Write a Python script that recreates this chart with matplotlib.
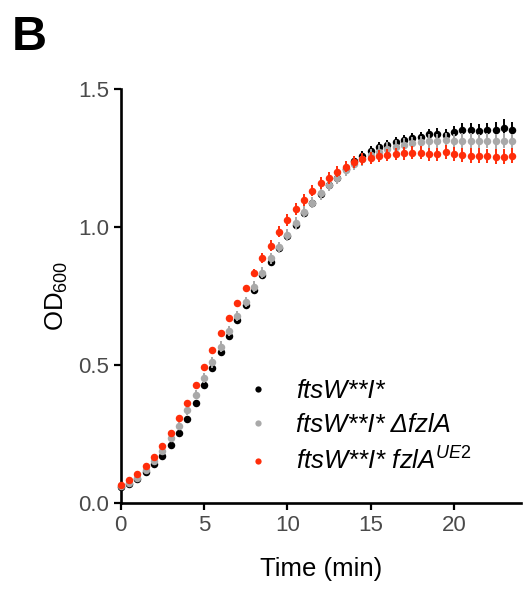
import numpy as np
import matplotlib.pyplot as plt
from matplotlib.lines import Line2D

plt.rcParams['font.family'] = ['Liberation Sans', 'DejaVu Sans']
plt.rcParams['mathtext.fontset'] = 'custom'
plt.rcParams['mathtext.rm'] = 'Liberation Sans'
plt.rcParams['mathtext.it'] = 'Liberation Sans:italic'

# sampling times (min)
time = [0.0, 0.5, 1.0, 1.5, 2.0, 2.5, 3.0, 3.5, 4.0, 4.5, 5.0, 5.5,
        6.0, 6.5, 7.0, 7.5, 8.0, 8.5, 9.0, 9.5, 10.0, 10.5, 11.0, 11.5,
        12.0, 12.5, 13.0, 13.5, 14.0, 14.5, 15.0, 15.5, 16.0, 16.5, 17.0, 17.5,
        18.0, 18.5, 19.0, 19.5, 20.0, 20.5, 21.0, 21.5, 22.0, 22.5, 23.0, 23.5]

# ftsW**I*
od_wt = [0.060, 0.070, 0.089, 0.114, 0.141, 0.171, 0.211, 0.256, 0.306, 0.363, 0.428, 0.488,
         0.549, 0.605, 0.663, 0.717, 0.772, 0.826, 0.874, 0.925, 0.967, 1.007, 1.049, 1.085,
         1.120, 1.150, 1.178, 1.210, 1.238, 1.258, 1.275, 1.288, 1.298, 1.306, 1.314, 1.320,
         1.326, 1.335, 1.337, 1.333, 1.342, 1.350, 1.350, 1.347, 1.350, 1.350, 1.357, 1.350]
err_wt = [0.004, 0.004, 0.004, 0.004, 0.004, 0.004, 0.005, 0.005, 0.006, 0.006, 0.008, 0.008,
          0.008, 0.009, 0.009, 0.010, 0.010, 0.011, 0.012, 0.012, 0.013, 0.013, 0.014, 0.014,
          0.015, 0.015, 0.016, 0.016, 0.017, 0.017, 0.017, 0.018, 0.018, 0.018, 0.019, 0.019,
          0.019, 0.019, 0.020, 0.021, 0.023, 0.025, 0.025, 0.025, 0.026, 0.030, 0.033, 0.029]

# ftsW**I* delta fzlA
od_dfzl = [0.063, 0.075, 0.093, 0.122, 0.153, 0.189, 0.235, 0.281, 0.337, 0.393, 0.452, 0.510,
           0.567, 0.623, 0.678, 0.729, 0.784, 0.834, 0.886, 0.926, 0.971, 1.015, 1.055, 1.088,
           1.121, 1.152, 1.178, 1.205, 1.228, 1.245, 1.260, 1.272, 1.282, 1.290, 1.298, 1.302,
           1.306, 1.310, 1.312, 1.315, 1.312, 1.312, 1.312, 1.310, 1.312, 1.310, 1.312, 1.310]
err_dfzl = [0.004, 0.005, 0.005, 0.006, 0.008, 0.010, 0.012, 0.014, 0.016, 0.017, 0.018, 0.019,
            0.019, 0.019, 0.019, 0.019, 0.020, 0.020, 0.020, 0.020, 0.021, 0.021, 0.021, 0.021,
            0.022, 0.022, 0.022, 0.022, 0.023, 0.023, 0.023, 0.023, 0.024, 0.024, 0.024, 0.024,
            0.024, 0.025, 0.025, 0.025, 0.025, 0.026, 0.026, 0.026, 0.026, 0.027, 0.027, 0.027]

# ftsW**I* fzlA UE2
od_ue2 = [0.066, 0.084, 0.106, 0.134, 0.169, 0.207, 0.254, 0.307, 0.364, 0.428, 0.492, 0.553,
          0.615, 0.670, 0.726, 0.778, 0.832, 0.887, 0.932, 0.983, 1.025, 1.064, 1.097, 1.131,
          1.158, 1.176, 1.200, 1.218, 1.234, 1.245, 1.250, 1.256, 1.260, 1.264, 1.266, 1.268,
          1.268, 1.263, 1.263, 1.272, 1.263, 1.260, 1.258, 1.258, 1.256, 1.254, 1.254, 1.258]
err_ue2 = [0.003, 0.003, 0.003, 0.004, 0.004, 0.005, 0.005, 0.006, 0.006, 0.007, 0.008, 0.008,
           0.009, 0.010, 0.011, 0.012, 0.014, 0.017, 0.019, 0.020, 0.021, 0.021, 0.021, 0.021,
           0.021, 0.021, 0.021, 0.021, 0.021, 0.022, 0.022, 0.022, 0.022, 0.023, 0.023, 0.023,
           0.024, 0.024, 0.024, 0.025, 0.025, 0.026, 0.026, 0.026, 0.026, 0.027, 0.027, 0.027]

labels = ['ftsW**I*', 'ftsW**I* \u0394fzlA', 'ftsW**I* fzlA$^{UE2}$']
colors = ['black', '#A9A9A9', '#FF2D0A']

fig = plt.figure(figsize=(5.3, 5.9), dpi=100)
ax = fig.add_axes([0.2277, 0.147, 0.7548, 0.7027])

series = [(od_wt, err_wt), (od_dfzl, err_dfzl), (od_ue2, err_ue2)]
for i, (y, e) in enumerate(series):
    ax.errorbar(time, y, yerr=e, fmt='o', ms=5.4, mew=0, color=colors[i],
                ecolor=colors[i], elinewidth=1.4, capsize=2.8, capthick=1.4,
                clip_on=False, zorder=3 + i)

ax.set_xlim(0, 24)
ax.set_ylim(0, 1.5)
ax.set_xticks([0, 5, 10, 15, 20])
ax.set_yticks([0.0, 0.5, 1.0, 1.5])
ax.set_yticklabels(['0.0', '0.5', '1.0', '1.5'])

for s in ['top', 'right']:
    ax.spines[s].set_visible(False)
for s in ['left', 'bottom']:
    ax.spines[s].set_linewidth(1.9)
ax.tick_params(direction='out', length=5, width=1.6, labelsize=16,
               labelcolor='#4a4a4a', pad=3.5)

ax.set_xlabel('Time (min)', fontsize=18.5, labelpad=15)
ax.set_ylabel('OD$_{600}$', fontsize=18.5, labelpad=6)

handles = [Line2D([], [], ls='none', marker='o', ms=4.5, mew=0, color=c) for c in colors]
ax.legend(handles, labels, loc='upper left', bbox_to_anchor=(0.31, 0.30),
          frameon=False, handlelength=1.0, handletextpad=1.0, labelspacing=0.4,
          borderpad=0, borderaxespad=0,
          prop={'size': 18.5, 'style': 'italic'})

fig.text(0.022, 0.975, 'B', fontsize=35, fontweight='bold', va='top', ha='left')

fig.savefig('out.png', dpi=100)
